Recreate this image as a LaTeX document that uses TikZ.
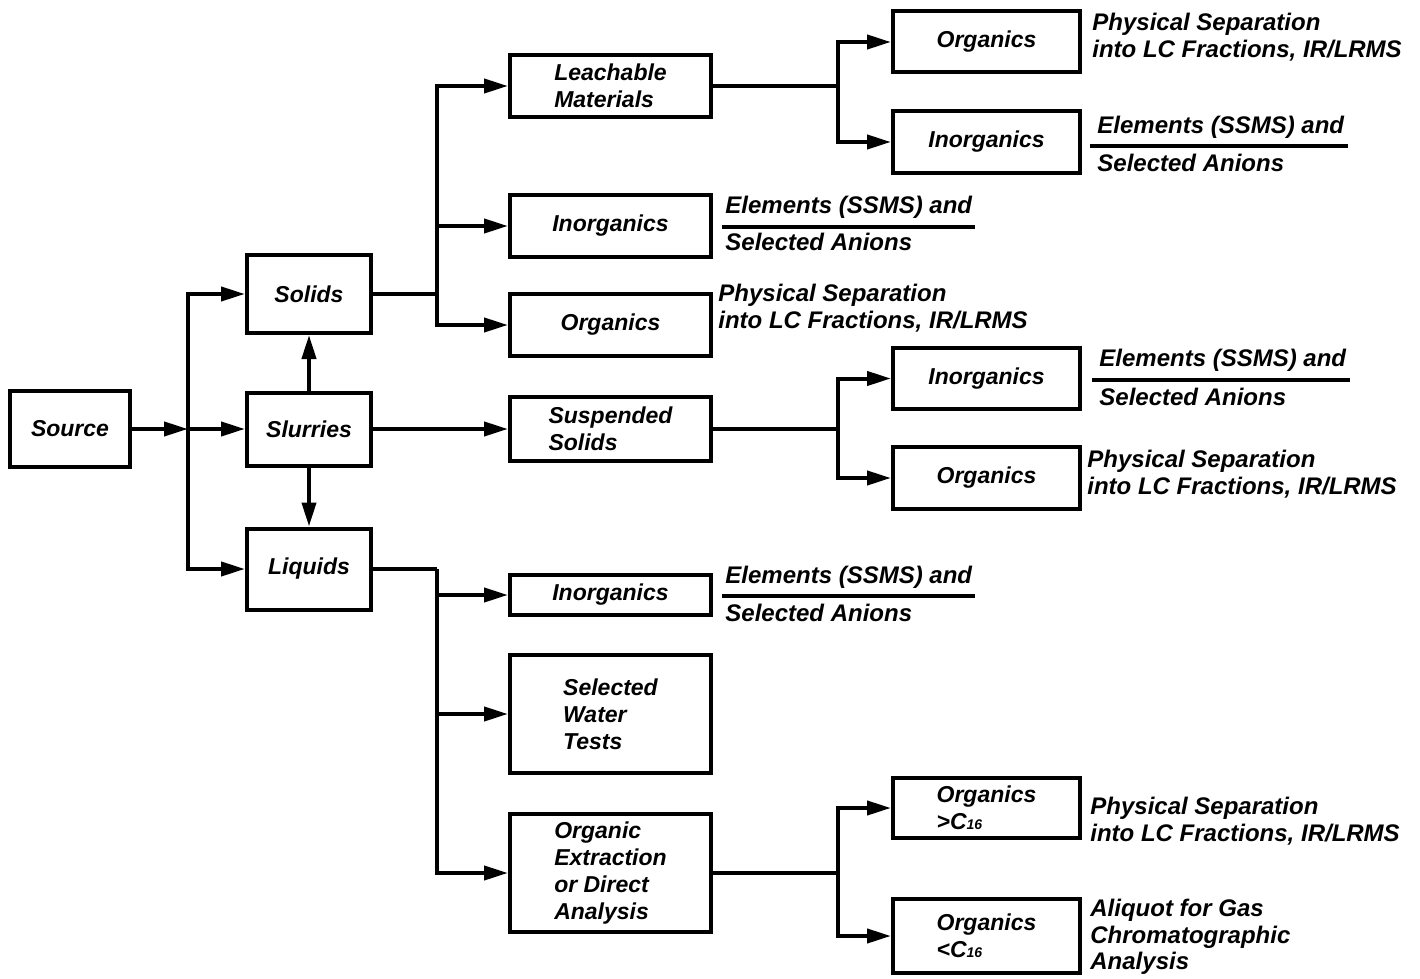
\documentclass[tikz,border=0pt]{standalone}
\usepackage{fontspec}
\setmainfont{Liberation Sans}
\usetikzlibrary{arrows.meta}
\begin{document}
\begin{tikzpicture}[x=0.5pt,y=-0.5pt,
  bx/.style={draw,line width=2pt,rectangle,inner sep=0pt,align=left,font=\fontsize{11.5}{13.5}\selectfont\bfseries\itshape},
  ln/.style={line width=2pt,line join=miter},
  arr/.style={ln,-{Triangle[length=12pt,width=7pt]}},
  note/.style={inner sep=0pt,anchor=west,align=left,font=\fontsize{12}{13.3}\selectfont\bfseries\itshape},
  rl/.style={line width=1.6pt}]
\useasboundingbox (0,0) rectangle (1420,979);
% column 1
\node[bx,minimum width=60pt,minimum height=38pt] (src) at (70,429) {Source};
\node[bx,minimum width=62pt,minimum height=39pt] (sol) at (309,294) {Solids};
\node[bx,minimum width=62pt,minimum height=36.5pt] (slu) at (309,429) {Slurries};
\node[bx,minimum width=62pt,minimum height=40.5pt] (liq) at (309,569) {Liquids};
% column 2
\node[bx,minimum width=100.5pt,minimum height=31pt] (leach) at (610.5,86) {Leachable\\Materials};
\node[bx,minimum width=100.5pt,minimum height=31pt] (inoA) at (610.5,226) {Inorganics};
\node[bx,minimum width=100.5pt,minimum height=31pt] (orgA) at (610.5,325) {Organics};
\node[bx,minimum width=100.5pt,minimum height=32pt] (susp) at (610.5,429) {Suspended\\Solids};
\node[bx,minimum width=100.5pt,minimum height=20pt] (inoB) at (610.5,595) {Inorganics};
\node[bx,minimum width=100.5pt,minimum height=59pt] (wat) at (610.5,714) {Selected\\Water\\Tests};
\node[bx,minimum width=100.5pt,minimum height=59pt] (ext) at (610.5,873) {Organic\\Extraction\\or Direct\\Analysis};
% column 3
\node[bx,minimum width=93.5pt,minimum height=30.5pt] (orgB) at (986.5,42) {Organics};
\node[bx,minimum width=93.5pt,minimum height=31pt] (inoC) at (986.5,142) {Inorganics};
\node[bx,minimum width=93.5pt,minimum height=30.5pt] (inoD) at (986.5,378.5) {Inorganics};
\node[bx,minimum width=93.5pt,minimum height=31pt] (orgC) at (986.5,478) {Organics};
\node[bx,minimum width=93.5pt,minimum height=30pt] (orgG) at (986.5,808) {Organics\\>C{\fontsize{7}{8}\selectfont 16}};
\node[bx,minimum width=93.5pt,minimum height=37pt] (orgL) at (986.5,936) {Organics\\<C{\fontsize{7}{8}\selectfont 16}};
% notes
\node[note] (nA1) at (1092,37) {Physical Separation\\into LC Fractions, IR/LRMS};
\node[note] (nC1) at (1097,127) {Elements (SSMS) and};
\node[note] (nC2) at (1097,163) {Selected Anions};
\draw[rl] (1090,146) coordinate (rC1) -- (1348,146) coordinate (rC2);
\node[note] (nE1) at (725,207) {Elements (SSMS) and};
\node[note] (nE2) at (725,242) {Selected Anions};
\draw[rl] (722,227) coordinate (rE1) -- (975,227) coordinate (rE2);
\node[note] (nP1) at (718,308) {Physical Separation\\into LC Fractions, IR/LRMS};
\node[note] (nD1) at (1099,360) {Elements (SSMS) and};
\node[note] (nD2) at (1099,397) {Selected Anions};
\draw[rl] (1092,380) coordinate (rD1) -- (1350,380) coordinate (rD2);
\node[note] (nP2) at (1087,474) {Physical Separation\\into LC Fractions, IR/LRMS};
\node[note] (nF1) at (725,577) {Elements (SSMS) and};
\node[note] (nF2) at (725,613) {Selected Anions};
\draw[rl] (722,596) coordinate (rF1) -- (975,596) coordinate (rF2);
\node[note] (nP3) at (1090,821) {Physical Separation\\into LC Fractions, IR/LRMS};
\node[note] (nQ) at (1090,937) {Aliquot for Gas\\Chromatographic\\Analysis};
% connectors
\coordinate (b1) at (188,429);
\draw[arr] (src.east) -- (b1);
\draw[arr] (b1) |- (sol.west);
\draw[arr] (b1) -- (slu.west);
\draw[arr] (b1) |- (liq.west);
\draw[arr] (slu.north) -- (sol.south);
\draw[arr] (slu.south) -- (liq.north);
\coordinate (b2) at (437,294);
\draw[ln] (sol.east) -- (b2);
\draw[arr] (b2) |- (leach.west);
\draw[arr] (b2) |- (inoA.west);
\draw[arr] (b2) |- (orgA.west);
\coordinate (b3) at (838,88);
\draw[ln] (leach.east) -- (leach.east -| b3);
\draw[arr] (leach.east -| b3) |- (orgB.west);
\draw[arr] (leach.east -| b3) |- (inoC.west);
\draw[arr] (slu.east) -- (susp.west);
\coordinate (b4) at (838,432);
\draw[ln] (susp.east) -- (susp.east -| b4);
\draw[arr] (susp.east -| b4) |- (inoD.west);
\draw[arr] (susp.east -| b4) |- (orgC.west);
\coordinate (b5) at (437,572);
\draw[ln] (liq.east) -- (liq.east -| b5);
\draw[arr] (liq.east -| b5) |- (inoB.west);
\draw[arr] (liq.east -| b5) |- (wat.west);
\draw[arr] (liq.east -| b5) |- (ext.west);
\coordinate (b6) at (838,873);
\draw[ln] (ext.east) -- (ext.east -| b6);
\draw[arr] (ext.east -| b6) |- (orgG.west);
\draw[arr] (ext.east -| b6) |- (orgL.west);
\end{tikzpicture}
\end{document}
